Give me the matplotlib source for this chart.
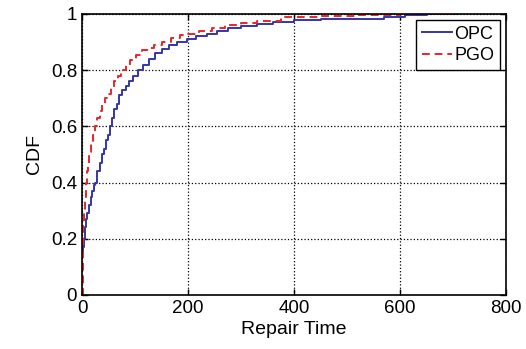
import matplotlib
matplotlib.use("Agg")
import matplotlib.pyplot as plt

# CDF points (repair time, cumulative fraction)
opc_t = [0, 2, 4, 6, 8, 10, 13, 16, 19, 22, 25, 29, 33, 37, 41, 45, 49, 53, 57,
         61, 65, 70, 76, 82, 89, 97, 105, 115, 126, 138, 151, 165, 180, 198,
         215, 235, 255, 275, 300, 330, 360, 400, 450, 520, 570, 610, 650, 710]
opc_p = [0.15, 0.17, 0.20, 0.24, 0.27, 0.29, 0.32, 0.35, 0.37, 0.39, 0.40, 0.44,
         0.47, 0.50, 0.52, 0.55, 0.57, 0.60, 0.63, 0.66, 0.68, 0.71, 0.73, 0.745,
         0.76, 0.78, 0.80, 0.82, 0.84, 0.86, 0.875, 0.89, 0.90, 0.91, 0.92, 0.93,
         0.94, 0.95, 0.957, 0.965, 0.972, 0.98, 0.982, 0.983, 0.99, 0.995, 1.0, 1.0]

pgo_t = [0, 1, 2, 3, 5, 7, 9, 11, 14, 17, 21, 25, 29, 33, 38, 43, 49, 55, 61,
         67, 74, 82, 91, 102, 114, 126, 136, 150, 167, 185, 200, 220, 245, 270,
         300, 330, 375, 450, 520, 600, 710]
pgo_p = [0.0, 0.20, 0.25, 0.29, 0.35, 0.40, 0.44, 0.47, 0.51, 0.54, 0.57, 0.60,
         0.63, 0.655, 0.68, 0.70, 0.715, 0.735, 0.76, 0.78, 0.80, 0.82, 0.835,
         0.855, 0.87, 0.88, 0.89, 0.90, 0.915, 0.925, 0.93, 0.94, 0.95, 0.96,
         0.968, 0.975, 0.99, 0.992, 0.995, 1.0, 1.0]

xticks = [0, 200, 400, 600, 800]
yticks = [0, 0.2, 0.4, 0.6, 0.8, 1]
ylabels = ["0", "0.2", "0.4", "0.6", "0.8", "1"]

plt.rcParams['font.family'] = ['Liberation Sans', 'DejaVu Sans']

fig = plt.figure(figsize=(5.26, 3.49), dpi=100)
ax = fig.add_axes([0.156, 0.155, 0.806, 0.805])

ax.step(opc_t, opc_p, where="post", color="#3535a8", lw=1.4, label="OPC")
ax.step(pgo_t, pgo_p, where="post", color="#e8262b", lw=1.4, ls=(0, (4, 2.5)),
        label="PGO")

ax.set_xlim(0, 800)
ax.set_ylim(0, 1)
ax.set_xticks(xticks)
ax.set_yticks(yticks)
ax.set_yticklabels(ylabels)
ax.tick_params(direction="in", labelsize=13.5, length=4, width=1,
               top=True, right=True)
ax.grid(True, color="black", ls=":", lw=0.9)
for s in ax.spines.values():
    s.set_linewidth(1.2)

ax.set_xlabel("Repair Time", fontsize=14, labelpad=3)
ax.set_ylabel("CDF", fontsize=14, labelpad=6)

leg = ax.legend(loc="upper right", fontsize=13, fancybox=False, framealpha=1,
                edgecolor="black", handlelength=1.7, handletextpad=0.1,
                borderpad=0.3, labelspacing=0.25, borderaxespad=0.35)
leg.get_frame().set_linewidth(1.0)

fig.savefig("out.png", dpi=100)
